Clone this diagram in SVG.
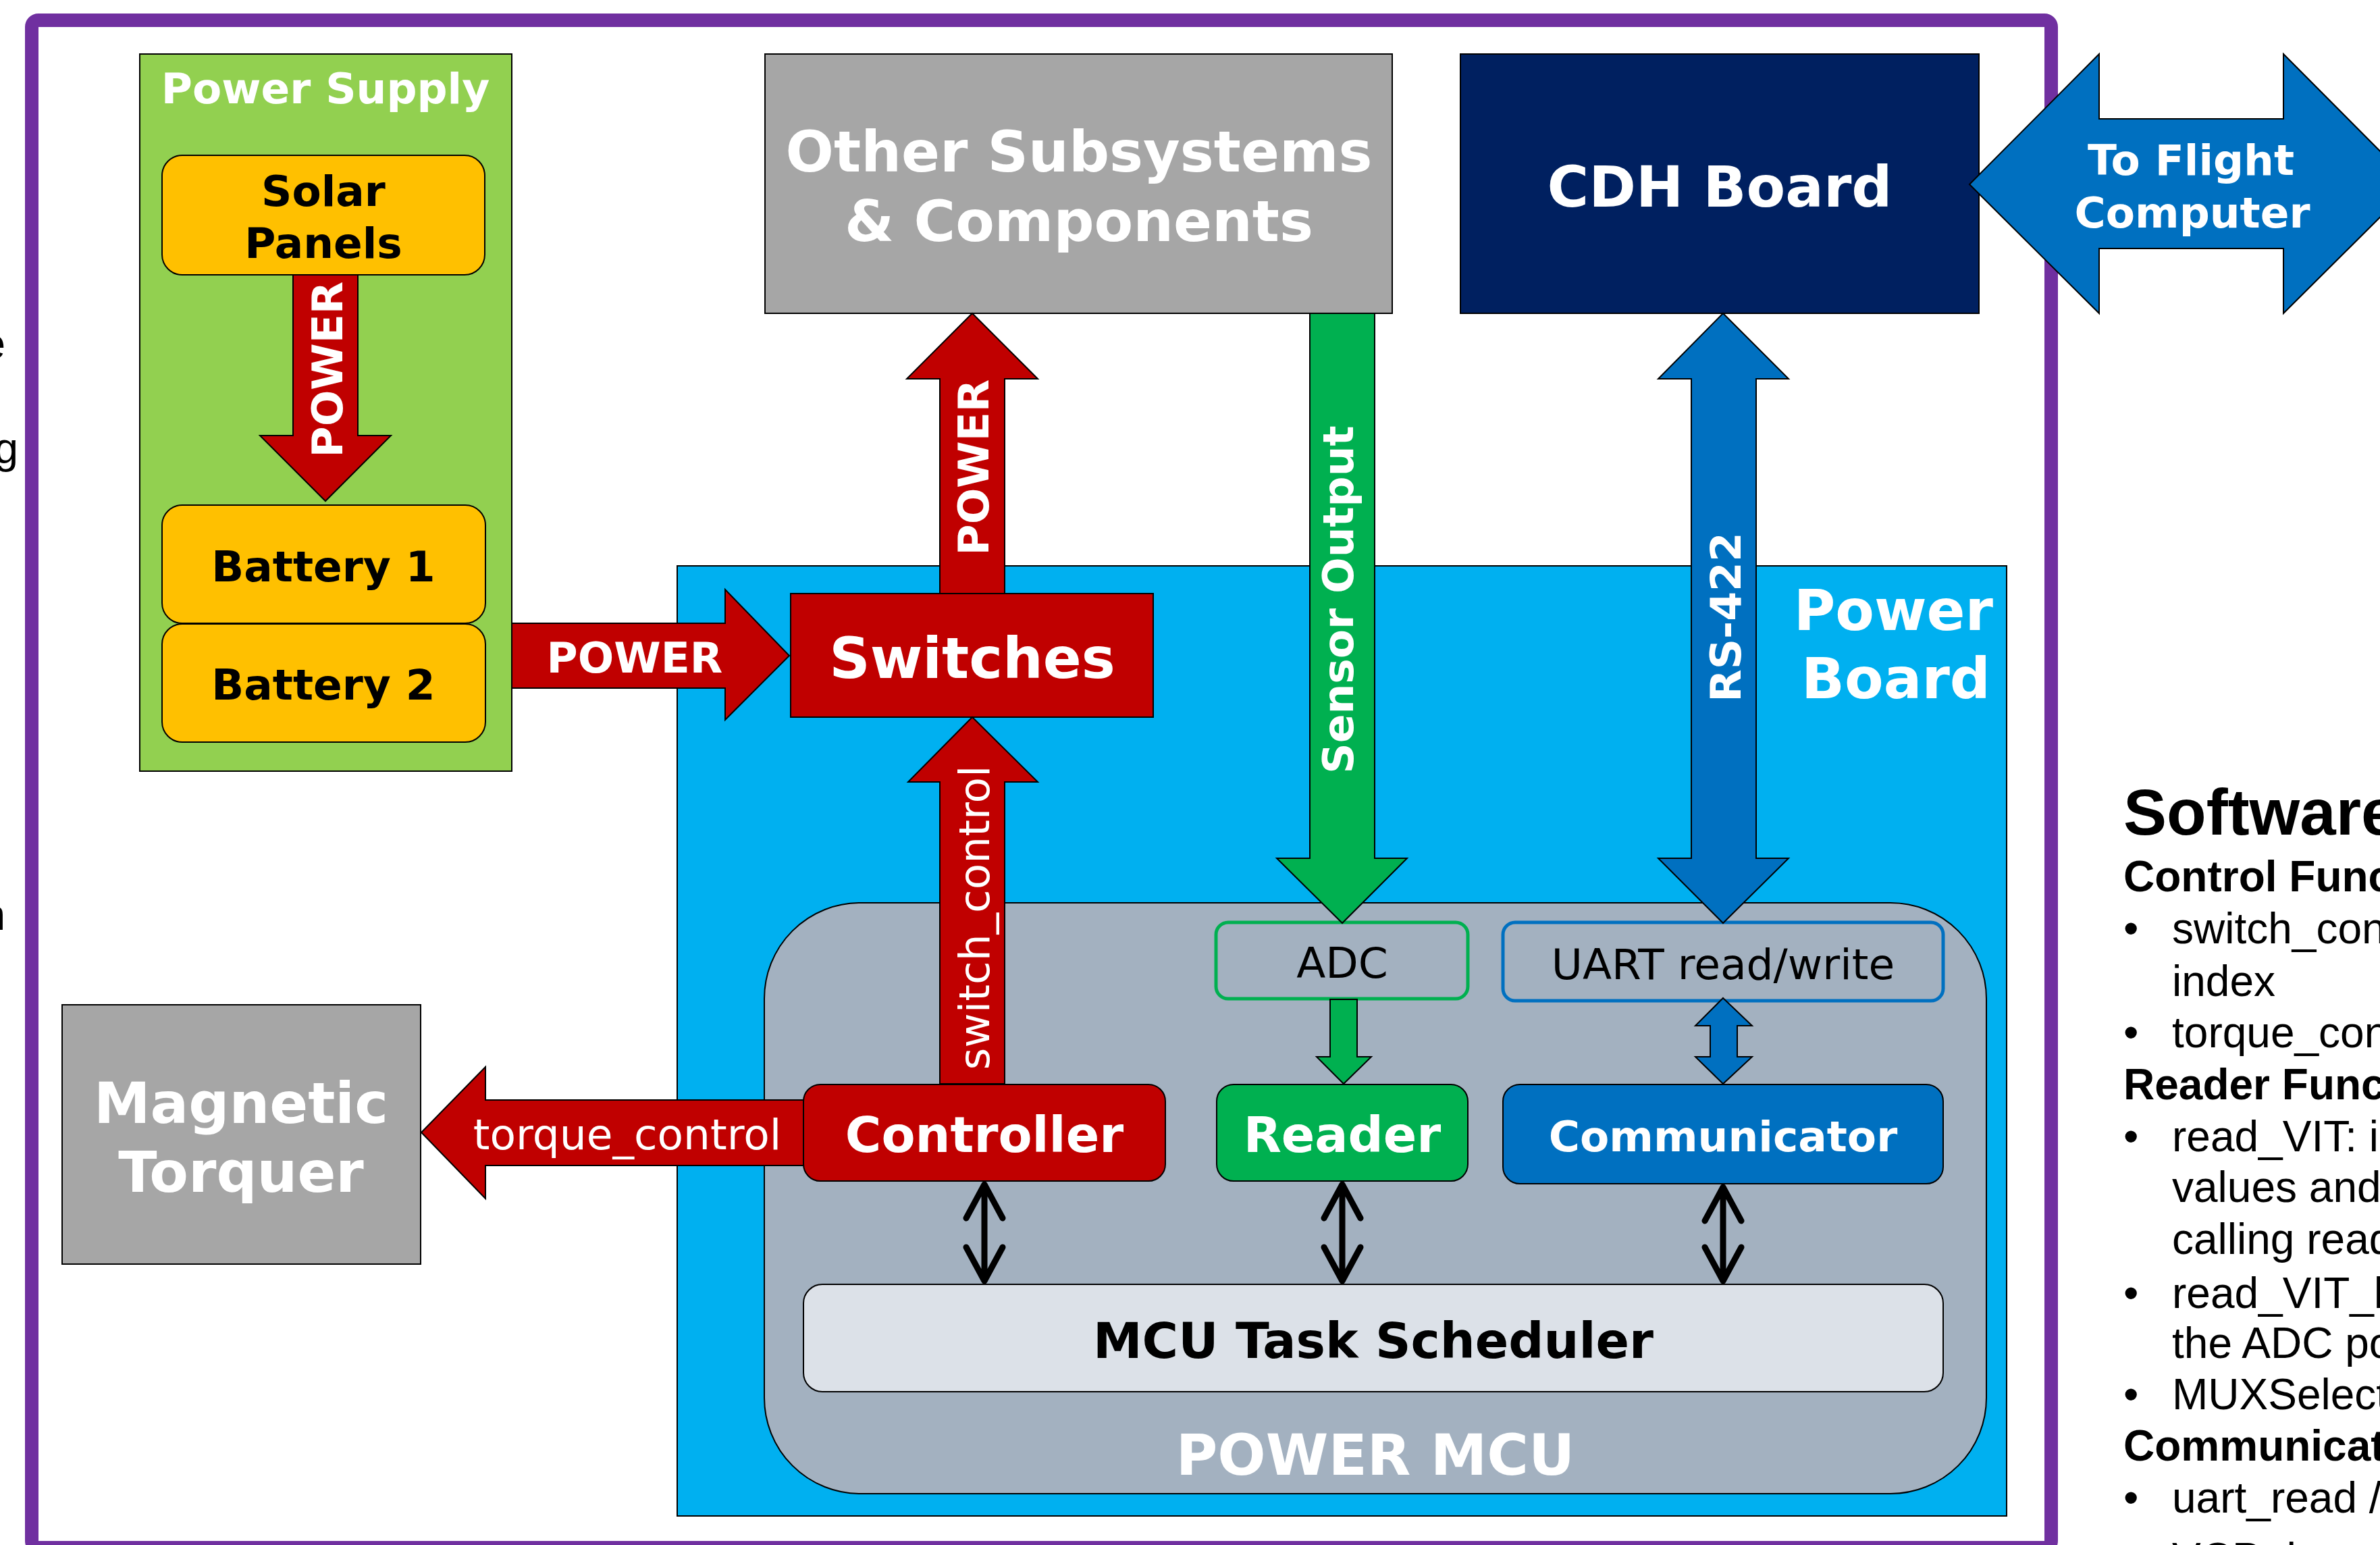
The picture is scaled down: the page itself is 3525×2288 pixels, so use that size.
<svg xmlns="http://www.w3.org/2000/svg" width="3525" height="2288" viewBox="0 0 3525 2288">
<style>
.b{font-family:"DejaVu Sans","Liberation Sans",sans-serif;font-weight:bold;}
.r{font-family:"DejaVu Sans","Liberation Sans",sans-serif;font-weight:normal;}
.w{fill:#FFFFFF;}
.k{fill:#000000;}
.m{text-anchor:middle;}
.ln{stroke:#000000;stroke-width:2;}
.side{font-family:"Liberation Sans",Arial,sans-serif;fill:#000000;font-size:64px;}
.sideb{font-family:"Liberation Sans",Arial,sans-serif;fill:#000000;font-weight:bold;}
.blk{fill:none;stroke:#000000;stroke-width:9;stroke-linecap:round;stroke-linejoin:round;}
</style>
<rect x="0" y="0" width="3525" height="2288" fill="#FFFFFF"/>

<!-- left cut-off text fragments -->
<g id="left-fragments">
<text class="side" x="8" y="531" text-anchor="end">e</text>
<text class="side" x="27" y="686" text-anchor="end">g</text>
<text class="side" x="8" y="1377" text-anchor="end">n</text>
</g>

<!-- outer frame -->
<rect id="frame" x="47" y="30" width="2991" height="2262" rx="10" fill="none" stroke="#7030A0" stroke-width="20"/>

<!-- right side text -->
<g id="software-text">
<text class="sideb" x="3145" y="1236" font-size="96">Software</text>
<text class="sideb" x="3145" y="1320" font-size="64">Control Func</text>
<text class="side" x="3145" y="1397">•</text>
<text class="side" x="3217" y="1397">switch_con</text>
<text class="side" x="3217" y="1475">index</text>
<text class="side" x="3145" y="1551">•</text>
<text class="side" x="3217" y="1551">torque_con</text>
<text class="sideb" x="3145" y="1628" font-size="64">Reader Func</text>
<text class="side" x="3145" y="1705">•</text>
<text class="side" x="3217" y="1705">read_VIT: i</text>
<text class="side" x="3217" y="1780">values and</text>
<text class="side" x="3217" y="1857">calling read</text>
<text class="side" x="3145" y="1937">•</text>
<text class="side" x="3217" y="1937">read_VIT_h</text>
<text class="side" x="3217" y="2011">the ADC po</text>
<text class="side" x="3145" y="2087">•</text>
<text class="side" x="3217" y="2087">MUXSelect</text>
<text class="sideb" x="3145" y="2163" font-size="64">Communicat</text>
<text class="side" x="3145" y="2240">•</text>
<text class="side" x="3217" y="2240">uart_read /</text>
<text class="side" x="3217" y="2330">VCP data r</text>
</g>

<!-- Power Supply -->
<g id="power-supply">
<rect x="207" y="80" width="551" height="1062" fill="#92D050" class="ln"/>
<text class="b w m" x="482" y="153" font-size="63">Power Supply</text>
</g>
<g id="solar-panels">
<rect x="240" y="230" width="478" height="177" rx="30" fill="#FFC000" class="ln"/>
<text class="b k m" x="479" y="305" font-size="63">Solar</text>
<text class="b k m" x="479" y="382" font-size="63">Panels</text>
</g>
<g id="battery-1">
<rect x="240" y="748" width="479" height="175" rx="30" fill="#FFC000" class="ln"/>
<text class="b k m" x="479" y="861" font-size="63">Battery 1</text>
</g>
<g id="battery-2">
<rect x="240" y="924" width="479" height="175" rx="30" fill="#FFC000" class="ln"/>
<text class="b k m" x="479" y="1036" font-size="63">Battery 2</text>
</g>

<!-- Other subsystems -->
<g id="other-subsystems">
<rect x="1133" y="80" width="929" height="384" fill="#A6A6A6" class="ln"/>
<text class="b w m" x="1598" y="254" font-size="84">Other Subsystems</text>
<text class="b w m" x="1598" y="357" font-size="84">&amp; Components</text>
</g>

<!-- CDH board -->
<g id="cdh-board">
<rect x="2163" y="80" width="768" height="384" fill="#002060" class="ln"/>
<text class="b w m" x="2547" y="306" font-size="84">CDH Board</text>
</g>

<!-- Magnetic torquer -->
<g id="magnetic-torquer">
<rect x="92" y="1488" width="531" height="384" fill="#A6A6A6" class="ln"/>
<text class="b w m" x="357" y="1663" font-size="84">Magnetic</text>
<text class="b w m" x="357" y="1765" font-size="84">Torquer</text>
</g>

<!-- Power board -->
<g id="power-board">
<rect x="1003" y="838" width="1969" height="1407" fill="#00B0F0" class="ln"/>
<text class="b w" x="2952" y="933" font-size="84" text-anchor="end">Power</text>
<text class="b w" x="2948" y="1034" font-size="84" text-anchor="end">Board</text>
</g>

<!-- Power MCU -->
<g id="power-mcu">
<rect x="1132" y="1337" width="1810" height="875" rx="142" ry="142" fill="#A3B1C0" class="ln"/>
<text class="b w m" x="2037" y="2184" font-size="84">POWER MCU</text>
</g>

<g id="switches">
<rect x="1171" y="879" width="537" height="183" fill="#C00000" class="ln"/>
<text class="b w m" x="1440" y="1004" font-size="84">Switches</text>
</g>

<g id="adc">
<rect x="1801" y="1366" width="373" height="113" rx="18" fill="#A3B1C0" stroke="#00B050" stroke-width="5"/>
<text class="r k m" x="1988" y="1448" font-size="63">ADC</text>
</g>
<g id="uart">
<rect x="2226" y="1366" width="652" height="116" rx="18" fill="#A3B1C0" stroke="#0070C0" stroke-width="5"/>
<text class="r k m" x="2552" y="1450" font-size="63">UART read/write</text>
</g>

<g id="controller">
<rect x="1190" y="1606" width="536" height="143" rx="25" fill="#C00000" class="ln"/>
<text class="b w m" x="1458" y="1706" font-size="73">Controller</text>
</g>
<g id="reader">
<rect x="1802" y="1606" width="372" height="143" rx="25" fill="#00B050" class="ln"/>
<text class="b w m" x="1988" y="1706" font-size="73">Reader</text>
</g>
<g id="communicator">
<rect x="2226" y="1606" width="652" height="147" rx="25" fill="#0070C0" class="ln"/>
<text class="b w m" x="2552" y="1705" font-size="63">Communicator</text>
</g>
<g id="scheduler">
<rect x="1190" y="1902" width="1688" height="159" rx="28" fill="#DCE1E8" class="ln"/>
<text class="b k m" x="2034" y="2011" font-size="73">MCU Task Scheduler</text>
</g>

<!-- connectors -->
<g id="connectors">
<polygon points="434,407 530,407 530,645 579,645 482,742 385,645 434,645" fill="#C00000" class="ln"/>
<text class="b w m" transform="translate(507,547) rotate(-90)" x="0" y="0" font-size="63">POWER</text>

<polygon points="758,923 1074,923 1074,873 1169,971 1074,1066 1074,1019 758,1019" fill="#C00000" class="ln"/>
<text class="b w m" x="940" y="996" font-size="63">POWER</text>

<polygon points="1392,879 1392,561 1343,561 1440,464 1537,561 1488,561 1488,879" fill="#C00000" class="ln"/>
<text class="b w m" transform="translate(1464,692) rotate(-90)" x="0" y="0" font-size="63">POWER</text>

<polygon points="1940,464 2036,464 2036,1271 2084,1271 1988,1367 1891,1271 1940,1271" fill="#00B050" class="ln"/>
<text class="b w m" transform="translate(2004,888) rotate(-90)" x="0" y="0" font-size="63">Sensor Output</text>

<polygon points="2552,464 2649,561 2601,561 2601,1271 2649,1271 2552,1367 2456,1271 2505,1271 2505,561 2456,561" fill="#0070C0" class="ln"/>
<text class="b w m" transform="translate(2578,914) rotate(-90)" x="0" y="0" font-size="63">RS-422</text>

<polygon points="1392,1605 1392,1158 1345,1158 1440,1062 1537,1158 1488,1158 1488,1605" fill="#C00000" class="ln"/>
<text class="r w m" transform="translate(1465,1359) rotate(-90)" x="0" y="0" font-size="63">switch_control</text>

<polygon points="1190,1629 719,1629 719,1580 624,1677 719,1775 719,1726 1190,1726" fill="#C00000" class="ln"/>
<text class="r w m" x="929" y="1702" font-size="63">torque_control</text>

<polygon points="1970,1480 2010,1480 2010,1565 2031,1565 1990,1605 1950,1565 1970,1565" fill="#00B050" class="ln"/>

<polygon points="2552,1478 2595,1519 2573,1519 2573,1565 2595,1565 2552,1605 2511,1565 2533,1565 2533,1519 2511,1519" fill="#0070C0" class="ln"/>

<polygon points="2917,273 3109,80 3109,176 3382,176 3382,80 3574,273 3382,464 3382,368 3109,368 3109,464" fill="#0070C0" class="ln"/>
<text class="b w m" x="3245" y="259" font-size="63">To Flight</text>
<text class="b w m" x="3247" y="337" font-size="63">Computer</text>

<path class="blk" d="M1458,1754 V1897 M1431,1804 L1458,1754 L1485,1804 M1431,1847 L1458,1897 L1485,1847"/>
<path class="blk" d="M1988,1754 V1897 M1961,1804 L1988,1754 L2015,1804 M1961,1847 L1988,1897 L2015,1847"/>
<path class="blk" d="M2552,1758 V1897 M2525,1808 L2552,1758 L2579,1808 M2525,1847 L2552,1897 L2579,1847"/>
</g>
</svg>
